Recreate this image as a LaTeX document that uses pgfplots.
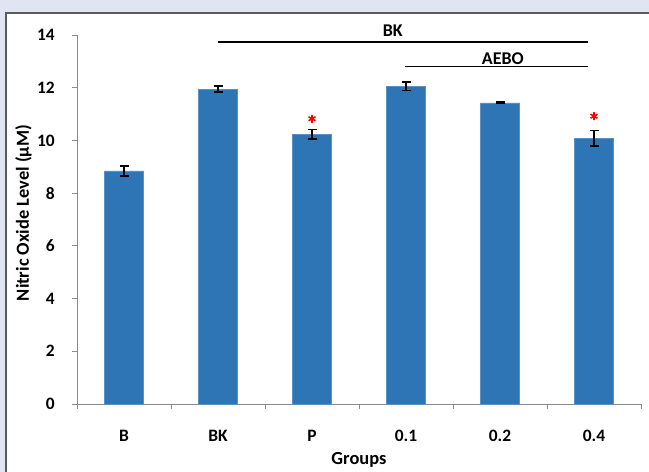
\documentclass[border=0pt]{standalone}
\usepackage{pgfplots}
\pgfplotsset{compat=1.18}
\usepackage{fontspec}
\setmainfont{Carlito}
\definecolor{panelbg}{HTML}{E1E4F2}
\definecolor{barblue}{HTML}{2E75B6}
\definecolor{axisgray}{HTML}{8A8A8A}
\definecolor{framegray}{HTML}{5A5A5A}

\pgfplotstableread{
x  y      err
0  8.84   0.19
1  11.95  0.11
2  10.24  0.18
3  12.06  0.16
4  11.42  0.03
5  10.08  0.29
}\nodata

\begin{document}
\begin{tikzpicture}[x=1bp,y=1bp]
  % page background and white panel (left and top edges framed)
  \fill[panelbg] (-10,-10) rectangle (660,482);
  \fill[white] (6,-10) rectangle (660,459);
  \draw[framegray, line width=1.3bp] (6,-10) -- (6,459) -- (660,459);
  \begin{axis}[
    at={(77bp,68bp)}, anchor=south west,
    scale only axis, width=564bp, height=369bp,
    xmin=-0.5, xmax=5.5, ymin=0, ymax=14,
    axis x line*=bottom, axis y line*=left,
    axis line style={axisgray, line width=0.9bp},
    xtick={0,...,5},
    xticklabels={B,BK,P,0.1,0.2,0.4},
    major x tick style={draw=none},
    minor xtick={-0.5,0.5,...,5.5},
    minor x tick style={axisgray, line width=0.9bp},
    minor tick length=5bp,
    ytick={0,2,...,14},
    major y tick style={axisgray, line width=0.9bp},
    major tick length=5bp,
    tick align=outside,
    /pgf/number format/assume math mode=true,
    ticklabel style={font=\fontsize{17.5}{19}\selectfont\bfseries, text=black},
    xticklabel style={anchor=base, yshift=-33bp},
    yticklabel style={anchor=east, inner sep=0pt, xshift=-17bp},
    xlabel={Groups},
    ylabel={Nitric Oxide Level (µM)},
    label style={font=\fontsize{18.5}{20}\selectfont\bfseries},
    xlabel style={at={(axis description cs:0.5,0)}, anchor=center, yshift=-55.5bp},
    ylabel style={at={(axis description cs:-0.0949,0.5176)}, anchor=center},
    clip=false,
  ]
    \addplot[ybar, bar width=39bp, fill=barblue, draw=barblue!80!white,
      error bars/.cd, y dir=both, y explicit,
      error bar style={black, line width=1.4bp},
      error mark options={black, line width=1.4bp, mark size=4.5bp, rotate=90}]
      table[x=x, y=y, y error=err] {\nodata};
    % significance markers
    \addplot[only marks, mark=asterisk, mark size=4bp, red, line width=1.6bp]
      coordinates {(2,10.82) (5,10.92)};
    % comparison brackets
    \draw[black, line width=1.4bp] (axis cs:1.0,13.74) -- (axis cs:4.94,13.74);
    \node[font=\fontsize{18}{20}\selectfont\bfseries, anchor=base]
      at (axis cs:2.86,13.94) {BK};
    \draw[black, line width=1.4bp] (axis cs:2.99,12.81) -- (axis cs:4.94,12.81);
    \node[font=\fontsize{18}{20}\selectfont\bfseries, anchor=base]
      at (axis cs:4.03,12.88) {AEBO};
  \end{axis}
  \pgfresetboundingbox
  \path[use as bounding box] (0,0) rectangle (649,472);
\end{tikzpicture}
\end{document}
